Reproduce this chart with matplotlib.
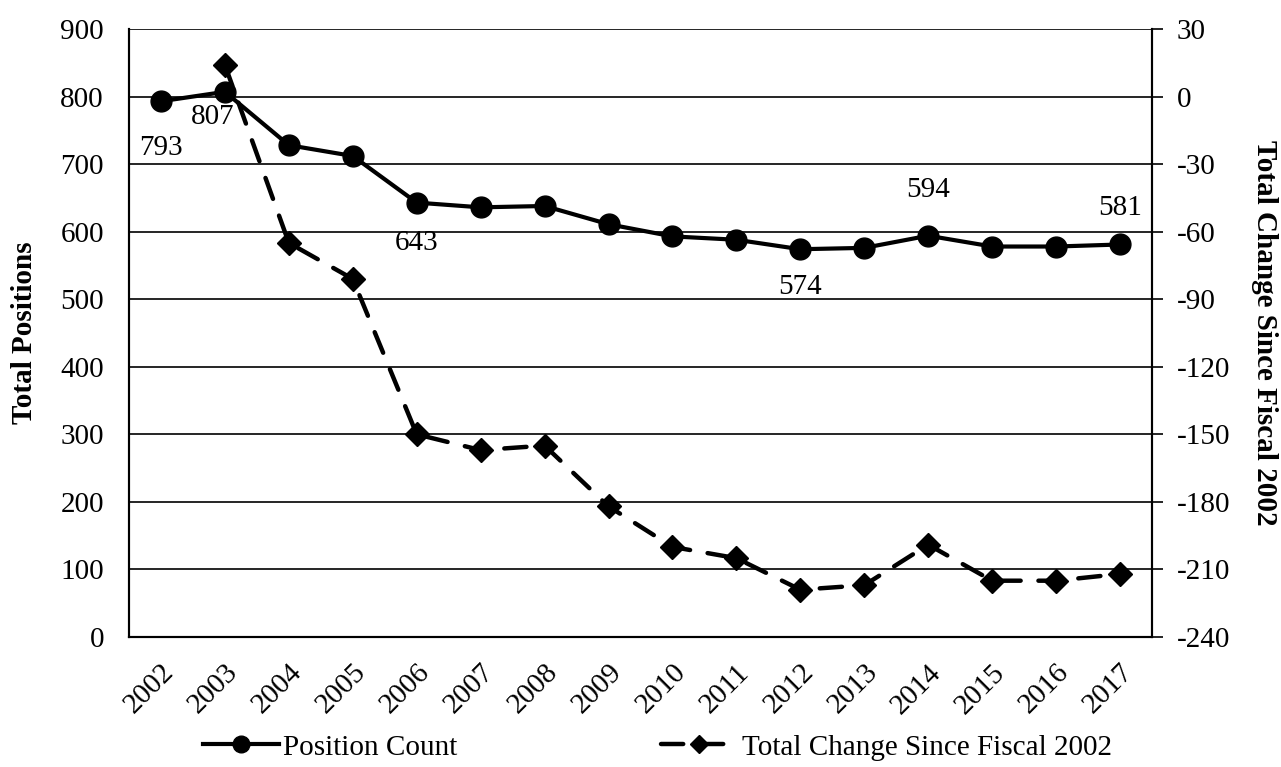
import numpy as np
import matplotlib.pyplot as plt

plt.rcParams['font.family'] = ['Liberation Serif', 'DejaVu Serif']
plt.rcParams['axes.unicode_minus'] = False

years = [str(y) for y in range(2002, 2018)]
positions = [793, 807, 728, 712, 643, 636, 638, 611, 593, 588, 574, 576, 594, 578, 578, 581]
# no change plotted for the base year
change = [np.nan, 14, -65, -81, -150, -157, -155, -182, -200, -205, -219, -217, -199, -215, -215, -212]

# which points get a value label, and where (offset in points)
labelled = {0: (0, -34), 1: (-9, -18), 4: (0, -29), 10: (0, -27), 12: (0, 33), 15: (0, 26)}

FS = 21
x = np.arange(len(years))

fig = plt.figure(figsize=(12.81, 7.67), dpi=100)
ax = fig.add_axes([0.1007, 0.1695, 0.7986, 0.7927])
ax2 = ax.twinx()

ax.set_ylim(0, 900)
ax.set_yticks(range(0, 901, 100))
ax.set_xlim(-0.5, len(years) - 0.5)
ax.set_xticks(x)
ax.set_xticklabels(years, rotation=45, ha='right', rotation_mode='anchor', fontsize=FS)
ax.tick_params(axis='x', length=0, pad=16)
ax.tick_params(axis='y', length=0, labelsize=FS, pad=18)
ax.grid(axis='y', color='black', linewidth=1.2)
ax.set_axisbelow(True)

ax2.set_ylim(-240, 30)
ax2.set_yticks(range(-240, 31, 30))
ax2.tick_params(axis='y', direction='out', length=8, width=1.2, labelsize=FS, pad=10)

for a in (ax, ax2):
    for side in ('left', 'right', 'bottom'):
        a.spines[side].set_linewidth(1.5)
        a.spines[side].set_color('black')
    a.spines['top'].set_visible(False)

l1, = ax.plot(x, positions, color='black', linewidth=3, marker='o', markersize=15,
              label='Position Count', zorder=5)
l2, = ax2.plot(x, change, color='black', linewidth=3.2, linestyle=(0, (5, 4)),
               dash_capstyle='round', marker='D', markersize=12,
               label='Total Change Since Fiscal 2002', zorder=4)

for i, (dx, dy) in labelled.items():
    ax.annotate(str(positions[i]), (x[i], positions[i]), xytext=(dx, dy),
                textcoords='offset points', ha='center', va='center', fontsize=FS)

ax.set_ylabel('Total Positions', fontsize=FS, fontweight='bold', labelpad=16)
ax2.set_ylabel('Total Change Since Fiscal 2002', fontsize=FS, fontweight='bold',
               rotation=-90, labelpad=34)

fig.legend(handles=[l1, l2], loc='lower center', bbox_to_anchor=(0.513, -0.026), ncol=2,
           frameon=False, fontsize=FS, handlelength=2.6, handletextpad=0.15,
           columnspacing=7.0, markerscale=0.8)

fig.savefig('out.png', dpi=100)
